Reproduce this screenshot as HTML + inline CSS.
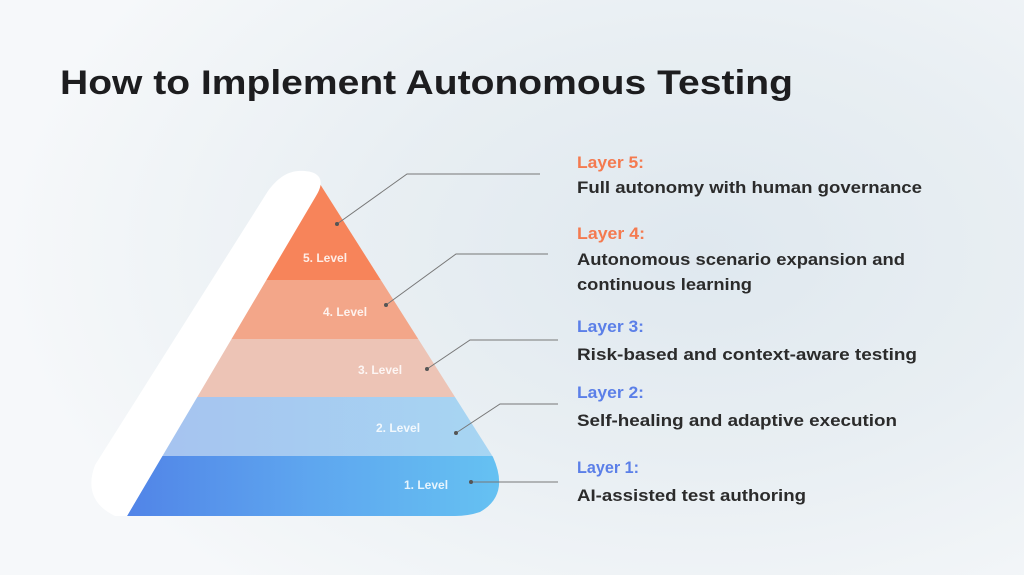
<!DOCTYPE html>
<html><head><meta charset="utf-8"><style>
html,body{margin:0;padding:0;width:1024px;height:575px;overflow:hidden}
body{background:radial-gradient(ellipse 700px 450px at 700px 250px,#dfe8ef 0%,#e9eff3 50%,#f6f8fa 100%)}
svg{position:absolute;left:0;top:0}
text{font-family:"Liberation Sans",sans-serif;font-weight:bold}
</style></head><body>
<svg width="1024" height="575" viewBox="0 0 1024 575">
<defs>
<linearGradient id="g1" x1="0" x2="1"><stop offset="0" stop-color="#4f7fe6"/><stop offset="0.5" stop-color="#5ea6ef"/><stop offset="1" stop-color="#66c4f2"/></linearGradient>
<linearGradient id="g2" x1="0" x2="1"><stop offset="0" stop-color="#a6c0ef"/><stop offset="1" stop-color="#a7d7f3"/></linearGradient>
<clipPath id="pc"><path d="M320,184 L493,457 Q510,495 480,512 Q468,516 455,516 L127,516 Z"/></clipPath>
</defs>
<text x="60" y="94" font-size="34" fill="#1d1d1f" textLength="733" lengthAdjust="spacingAndGlyphs">How to Implement Autonomous Testing</text>
<g clip-path="url(#pc)">
<rect x="100" y="170" width="420" height="110" fill="#f7845a"/>
<rect x="100" y="280" width="420" height="59" fill="#f3a689"/>
<rect x="100" y="339" width="420" height="58" fill="#edc4b6"/>
<rect x="100" y="397" width="420" height="59" fill="url(#g2)"/>
<rect x="100" y="456" width="420" height="62" fill="url(#g1)"/>
</g>
<path d="M127,516 L316,196 C326,180 320,170 298,171 C286,172 277,179 268,191 L95,465 Q82,500 115,516 Z" fill="#ffffff"/>
<g font-size="12" fill="#ffffff" fill-opacity="0.85">
<text x="303" y="262">5. Level</text>
<text x="323" y="316">4. Level</text>
<text x="358" y="374">3. Level</text>
<text x="376" y="432">2. Level</text>
<text x="404" y="489">1. Level</text>
</g>
<g stroke="#777" stroke-width="1" fill="none">
<polyline points="337,224 407,174 540,174"/>
<polyline points="386,305 456,254 548,254"/>
<polyline points="427,369 470,340 558,340"/>
<polyline points="456,433 500,404 558,404"/>
<polyline points="471,482 558,482"/>
</g>
<g fill="#555"><circle cx="337" cy="224" r="2"/><circle cx="386" cy="305" r="2"/><circle cx="427" cy="369" r="2"/><circle cx="456" cy="433" r="2"/><circle cx="471" cy="482" r="2"/></g>
<g font-size="17">
<text x="577" y="168" fill="#f47a4f" textLength="67" lengthAdjust="spacingAndGlyphs">Layer 5:</text>
<text x="577" y="193" fill="#2b2b2b" textLength="345" lengthAdjust="spacingAndGlyphs">Full autonomy with human governance</text>
<text x="577" y="239" fill="#f47a4f" textLength="68" lengthAdjust="spacingAndGlyphs">Layer 4:</text>
<text x="577" y="265" fill="#2b2b2b" textLength="328" lengthAdjust="spacingAndGlyphs">Autonomous scenario expansion and</text>
<text x="577" y="290" fill="#2b2b2b" textLength="175" lengthAdjust="spacingAndGlyphs">continuous learning</text>
<text x="577" y="332" fill="#5b7fe8" textLength="67" lengthAdjust="spacingAndGlyphs">Layer 3:</text>
<text x="577" y="360" fill="#2b2b2b" textLength="340" lengthAdjust="spacingAndGlyphs">Risk-based and context-aware testing</text>
<text x="577" y="398" fill="#5b7fe8" textLength="67" lengthAdjust="spacingAndGlyphs">Layer 2:</text>
<text x="577" y="426" fill="#2b2b2b" textLength="320" lengthAdjust="spacingAndGlyphs">Self-healing and adaptive execution</text>
<text x="577" y="473" fill="#5b7fe8" textLength="62" lengthAdjust="spacingAndGlyphs">Layer 1:</text>
<text x="577" y="501" fill="#2b2b2b" textLength="229" lengthAdjust="spacingAndGlyphs">AI-assisted test authoring</text>
</g>
</svg>
</body></html>
